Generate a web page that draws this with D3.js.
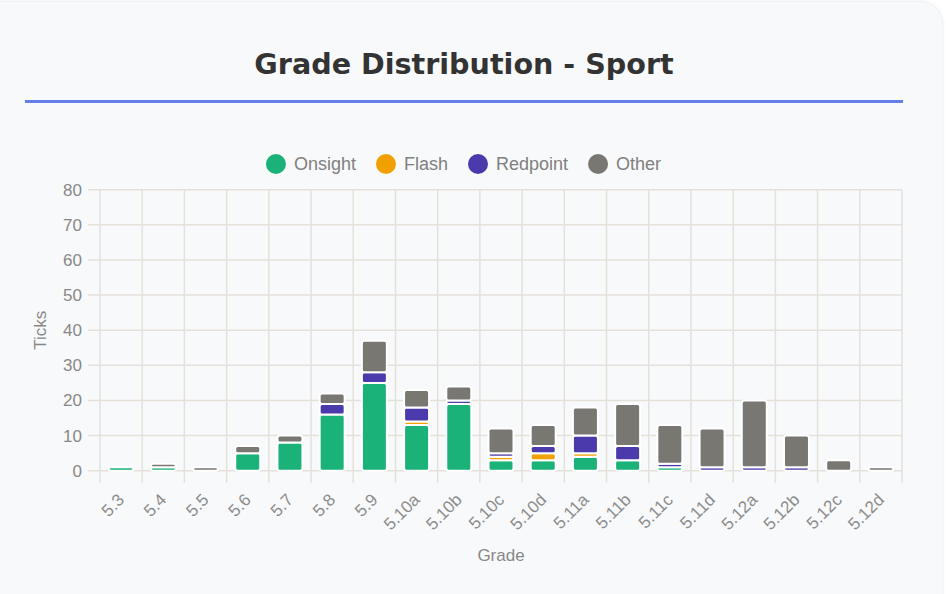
<!DOCTYPE html>
<html>
<head>
<meta charset="utf-8">
<title>Grade Distribution - Sport</title>
<script src="https://d3js.org/d3.v7.min.js"></script>
<style>
  html, body { margin: 0; padding: 0; background: #ffffff; overflow: hidden; }
  #card {
    position: absolute; left: -30px; top: 2px; width: 972px; height: 640px;
    background: #f8f9fa; border-radius: 22px;
    box-shadow: 0 0 4px rgba(0,0,0,0.12);
  }
  #chart { position: absolute; left: 0; top: 0; }
</style>
</head>
<body>
<div id="card"></div>
<svg id="chart"></svg>
<script>
// grades on the x axis
var grades = ["5.3", "5.4", "5.5", "5.6", "5.7", "5.8", "5.9", "5.10a", "5.10b", "5.10c",
  "5.10d", "5.11a", "5.11b", "5.11c", "5.11d", "5.12a", "5.12b", "5.12c", "5.12d"];

// tick counts per style
var onsight  = [1, 1, 0, 5, 8, 16, 25, 13, 19, 3, 3, 4, 3, 1, 0, 0, 0, 0, 0];
var flash    = [0, 0, 0, 0, 0, 0, 0, 1, 0, 1, 2, 1, 0, 0, 0, 0, 0, 0, 0];
var redpoint = [0, 0, 0, 0, 0, 3, 3, 4, 1, 1, 2, 5, 4, 1, 1, 1, 1, 0, 0];
var other    = [0, 1, 1, 2, 2, 3, 9, 5, 4, 7, 6, 8, 12, 11, 11, 19, 9, 3, 1];

var seriesNames = ["Onsight", "Flash", "Redpoint", "Other"];
var seriesColors = ["#1bb27a", "#f0a000", "#4b3aab", "#797772"];
var yTicks = [0, 10, 20, 30, 40, 50, 60, 70, 80];

var W = 946, H = 594;
var plot = { left: 100, right: 902, top: 189.7, bottom: 470.7 };

var rows = grades.map(function(g, i) {
  return { grade: g, Onsight: onsight[i], Flash: flash[i], Redpoint: redpoint[i], Other: other[i] };
});

var svg = d3.select("#chart").attr("width", W).attr("height", H);

// title + underline
svg.append("text")
  .attr("x", 464).attr("y", 74)
  .attr("text-anchor", "middle")
  .style("font-family", "DejaVu Sans")
  .style("font-weight", "bold")
  .style("font-size", "28.6px")
  .style("fill", "#333333")
  .text("Grade Distribution - Sport");

svg.append("rect")
  .attr("x", 25).attr("y", 100).attr("width", 878).attr("height", 3)
  .style("fill", "#667eea");

var x = d3.scaleBand().domain(grades).range([plot.left, plot.right]);
var y = d3.scaleLinear().domain([0, 80]).range([plot.bottom, plot.top]);
var color = d3.scaleOrdinal().domain(seriesNames).range(seriesColors);

var gridColor = "#e4e1db";
var tickFont = "Liberation Sans, Arial, sans-serif";

// horizontal grid + y ticks
var yg = svg.append("g");
yg.selectAll("line").data(yTicks).enter().append("line")
  .attr("x1", plot.left - 12).attr("x2", plot.right)
  .attr("y1", function(d) { return y(d); }).attr("y2", function(d) { return y(d); })
  .style("stroke", gridColor).style("stroke-width", 1.5);
yg.selectAll("text").data(yTicks).enter().append("text")
  .attr("x", plot.left - 18)
  .attr("y", function(d) { return y(d); })
  .attr("dy", "0.35em")
  .attr("text-anchor", "end")
  .style("font-family", tickFont).style("font-size", "17px").style("fill", "#888888")
  .text(function(d) { return d; });

// vertical grid at category boundaries
var bounds = grades.map(function(g) { return x(g); }).concat([plot.right]);
svg.append("g").selectAll("line").data(bounds).enter().append("line")
  .attr("x1", function(d) { return d; }).attr("x2", function(d) { return d; })
  .attr("y1", plot.top).attr("y2", plot.bottom + 12)
  .style("stroke", gridColor).style("stroke-width", 1.5);

// x tick labels, rotated
svg.append("g").selectAll("text").data(grades).enter().append("text")
  .attr("transform", function(d) {
    return "translate(" + (x(d) + x.bandwidth() / 2) + "," + (plot.bottom + 26) + ") rotate(-45)";
  })
  .attr("text-anchor", "end")
  .attr("dy", "0.35em")
  .style("font-family", tickFont).style("font-size", "17px").style("fill", "#8c8c8c")
  .text(function(d) { return d; });

// axis titles
svg.append("text")
  .attr("transform", "translate(46," + ((plot.top + plot.bottom) / 2) + ") rotate(-90)")
  .attr("text-anchor", "middle")
  .style("font-family", tickFont).style("font-size", "17px").style("fill", "#888888")
  .text("Ticks");

svg.append("text")
  .attr("x", (plot.left + plot.right) / 2).attr("y", 561)
  .attr("text-anchor", "middle")
  .style("font-family", tickFont).style("font-size", "17px").style("fill", "#888888")
  .text("Grade");

// stacked bars
var stacked = d3.stack().keys(seriesNames)(rows);
var barW = 25;

svg.append("g").selectAll("g").data(stacked).enter().append("g")
  .style("fill", function(s) { return color(s.key); })
  .selectAll("rect")
  .data(function(s) { return s.filter(function(d) { return d[1] > d[0]; }); })
  .enter().append("rect")
  .attr("x", function(d) { return x(d.data.grade) + x.bandwidth() / 2 - barW / 2; })
  .attr("width", barW)
  .attr("y", function(d) { return y(d[1]); })
  .attr("height", function(d) { return y(d[0]) - y(d[1]); })
  .attr("rx", 2.5)
  .style("stroke", "#ffffff")
  .style("stroke-width", 2);

// legend, centred above the plot
var legend = svg.append("g");
var items = legend.selectAll("g").data(seriesNames).enter().append("g");
items.append("circle").attr("r", 10).attr("cy", 164)
  .style("fill", function(d) { return color(d); });
items.append("text")
  .attr("y", 164).attr("dy", "0.35em")
  .style("font-family", tickFont).style("font-size", "18px").style("fill", "#808080")
  .text(function(d) { return d; });

var widths = [];
items.select("text").each(function() { widths.push(this.getComputedTextLength()); });
var gap = 20;
var total = d3.sum(widths, function(w) { return 28 + w; }) + gap * (widths.length - 1);
var cursor = 463.5 - total / 2;
items.each(function(d, i) {
  var g = d3.select(this);
  g.select("circle").attr("cx", cursor + 10);
  g.select("text").attr("x", cursor + 28);
  cursor += 28 + widths[i] + gap;
});
</script>
</body>
</html>
